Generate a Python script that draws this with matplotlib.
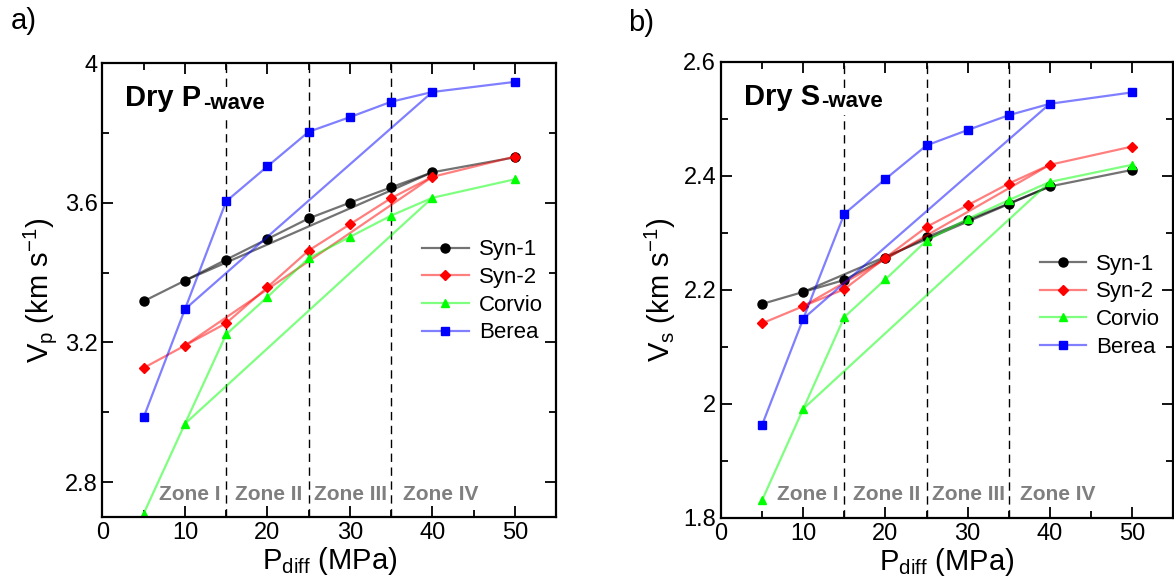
"""Dry P- and S-wave velocity vs differential pressure for four sandstones."""
import matplotlib.pyplot as plt
from matplotlib.ticker import MultipleLocator, FormatStrFormatter
from matplotlib.transforms import blended_transform_factory

plt.rcParams['font.family'] = ['Liberation Sans', 'DejaVu Sans']
plt.rcParams['mathtext.fontset'] = 'custom'
plt.rcParams['mathtext.rm'] = 'Liberation Sans'
plt.rcParams['mathtext.bf'] = 'Liberation Sans:bold'

# loading path, differential pressure (MPa)
p_diff = [5, 10, 15, 20, 25, 30, 35, 40, 50]
# unloading path: straight return from 40 MPa to 10 MPa
unload_p = [40, 10]

vp_syn1 = [3.318, 3.377, 3.437, 3.496, 3.555, 3.600, 3.644, 3.687, 3.730]
vp_syn2 = [3.127, 3.191, 3.255, 3.358, 3.463, 3.538, 3.613, 3.674, 3.732]
vp_corvio = [2.710, 2.967, 3.223, 3.330, 3.441, 3.502, 3.563, 3.614, 3.667]
vp_berea = [2.986, 3.295, 3.604, 3.704, 3.803, 3.845, 3.889, 3.917, 3.946]

vs_syn1 = [2.175, 2.196, 2.217, 2.255, 2.292, 2.322, 2.351, 2.381, 2.410]
vs_syn2 = [2.141, 2.171, 2.201, 2.256, 2.310, 2.348, 2.386, 2.419, 2.451]
vs_corvio = [1.831, 1.991, 2.152, 2.218, 2.286, 2.324, 2.357, 2.389, 2.419]
vs_berea = [1.963, 2.149, 2.333, 2.394, 2.453, 2.480, 2.506, 2.526, 2.546]

labels = ["Syn-1", "Syn-2", "Corvio", "Berea"]
zone_names = ["Zone I", "Zone II", "Zone III", "Zone IV"]
zone_centers = [10.6, 20.2, 30.1, 41.0]
zone_bounds = [15, 25, 35]

styles = [
    dict(marker="o", line=(0, 0, 0, 0.55), mc="black", ms=6.5),
    dict(marker="D", line=(1, 0, 0, 0.5), mc="red", ms=5),
    dict(marker="^", line=(0, 1, 0, 0.5), mc="#00ff00", ms=5.5),
    dict(marker="s", line=(0, 0, 1, 0.5), mc="blue", ms=6),
]


def draw_panel(ax, series, ylim, ymajor, wave, ylabel, leg_y):
    for vals, lab, st in zip(series, labels, styles):
        ax.plot(p_diff, vals, "-", marker=st["marker"], color=st["line"],
                mfc=st["mc"], mec=st["mc"], ms=st["ms"], lw=1.6, label=lab)
        uv = [vals[p_diff.index(p)] for p in unload_p]
        ax.plot(unload_p, uv, "-", color=st["line"], lw=1.6)

    for xb in zone_bounds:
        ax.axvline(xb, color="black", lw=1.0, ls=(0, (6, 4)), zorder=1)

    trans = blended_transform_factory(ax.transData, ax.transAxes)
    for name, xc in zip(zone_names, zone_centers):
        ax.text(xc, 0.038, name, transform=trans, ha="center", va="baseline",
                fontsize=15, fontweight="bold", color="#7f7f7f")

    t = ax.text(0.05, 0.905, "Dry " + wave, transform=ax.transAxes,
                fontsize=21, fontweight="bold", va="baseline", zorder=5,
                bbox=dict(fc="white", ec="none", pad=4))
    ax.annotate("-wave", xy=(1, 0), xycoords=t, xytext=(1, -1),
                textcoords="offset points", fontsize=16, fontweight="bold",
                va="bottom", zorder=6,
                bbox=dict(fc="white", ec="none", pad=2))

    ax.set_xlim(0, 55)
    ax.set_ylim(*ylim)
    ax.xaxis.set_major_locator(MultipleLocator(10))
    ax.xaxis.set_minor_locator(MultipleLocator(5))
    ax.yaxis.set_major_locator(MultipleLocator(ymajor))
    ax.yaxis.set_minor_locator(MultipleLocator(ymajor / 2))
    ax.yaxis.set_major_formatter(FormatStrFormatter("%g"))
    ax.tick_params(which="both", direction="in", top=True, right=True,
                   width=1.3, labelsize=17)
    ax.tick_params(which="major", length=8)
    ax.tick_params(which="minor", length=5)
    for sp in ax.spines.values():
        sp.set_linewidth(1.6)

    ax.set_xlabel(r"P$_\mathregular{diff}$ (MPa)", fontsize=21, labelpad=1)
    ax.set_ylabel(ylabel, fontsize=21, labelpad=4)
    ax.legend(loc="center left", bbox_to_anchor=(0.68, leg_y), frameon=False,
              fontsize=16, handlelength=2.1, handletextpad=0.45,
              labelspacing=0.3, borderpad=0)


fig = plt.figure(figsize=(11.74, 5.84), dpi=100)
ax_a = fig.add_axes([0.0873, 0.1147, 0.3863, 0.7774])
ax_b = fig.add_axes([0.6142, 0.1135, 0.385, 0.781])

draw_panel(ax_a, [vp_syn1, vp_syn2, vp_corvio, vp_berea], (2.7, 4.0), 0.4,
           "P", r"V$_\mathregular{p}$ (km s$^\mathregular{-1}$)", 0.497)
draw_panel(ax_b, [vs_syn1, vs_syn2, vs_corvio, vs_berea], (1.8, 2.6), 0.2,
           "S", r"V$_\mathregular{s}$ (km s$^\mathregular{-1}$)", 0.465)

fig.text(0.009, 0.95, "a)", fontsize=21, va="baseline")
fig.text(0.535, 0.947, "b)", fontsize=21, va="baseline")

fig.savefig("out.png", dpi=100)
